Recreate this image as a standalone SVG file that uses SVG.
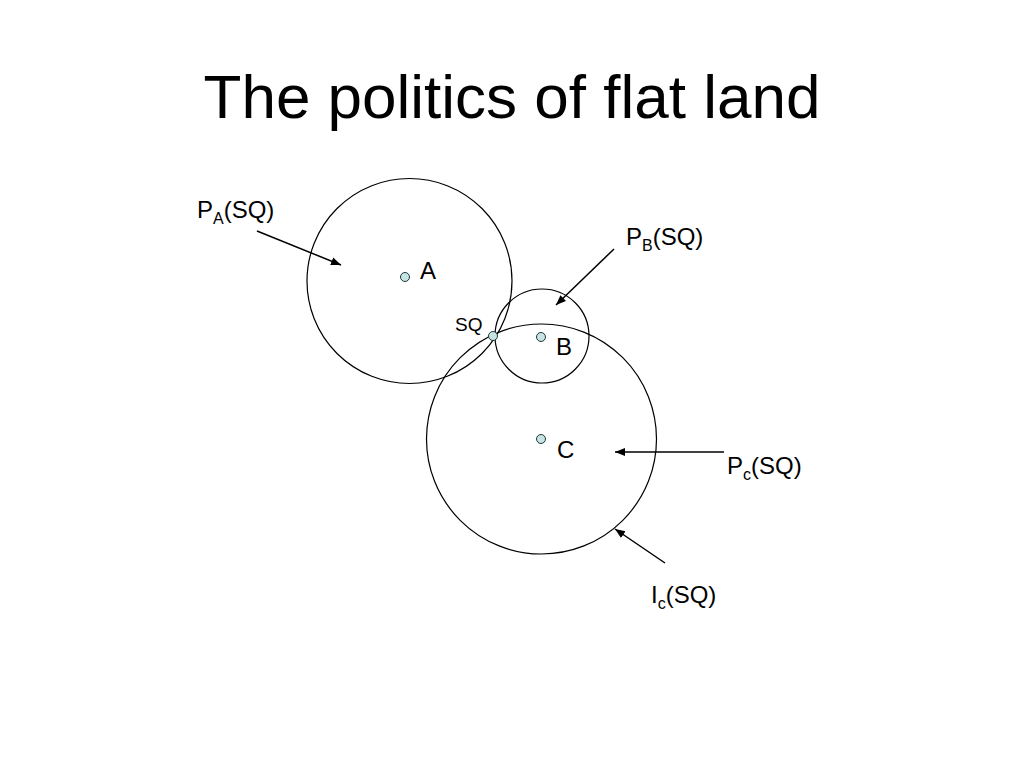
<svg xmlns="http://www.w3.org/2000/svg" width="1024" height="768" viewBox="0 0 1024 768">
<defs>
<marker id="ah" viewBox="0 0 10 10" refX="10" refY="5" markerWidth="10" markerHeight="10" markerUnits="userSpaceOnUse" orient="auto">
<path d="M0,1 L10,5 L0,9 z" fill="#000"/>
</marker>
<style>
.c{fill:none;stroke:#000;stroke-width:1.2}
.p{fill:#c8e4e2;stroke:#1a3a3a;stroke-width:1}
.t{font-family:"Liberation Sans",Arial,sans-serif;fill:#000}
.l{font-size:24px}
.s{font-size:16px}
.a{stroke:#000;stroke-width:1.5;fill:none;marker-end:url(#ah)}
</style>
</defs>
<rect width="1024" height="768" fill="#fff"/>
<text class="t" x="512" y="118" font-size="62" text-anchor="middle">The politics of flat land</text>
<g id="circles">
<circle id="circleA" class="c" cx="409.5" cy="281" r="102.5"/>
<circle id="circleB" class="c" cx="542" cy="336" r="47"/>
<circle id="circleC" class="c" cx="541.5" cy="439" r="115"/>
</g>
<g id="connectors">
<line class="a" x1="257" y1="231" x2="341" y2="265"/>
<line class="a" x1="614" y1="249" x2="556" y2="305"/>
<line class="a" x1="724" y1="452" x2="615" y2="452"/>
<line class="a" x1="665" y1="563" x2="615" y2="529"/>
</g>
<g id="nodeA"><circle class="p" cx="405" cy="277" r="4.5"/><text class="t l" x="420" y="279">A</text></g>
<g id="nodeB"><circle class="p" cx="541" cy="337" r="4.5"/><text class="t l" x="556" y="355">B</text></g>
<g id="nodeC"><circle class="p" cx="541" cy="439" r="4.5"/><text class="t l" x="557" y="458">C</text></g>
<g id="nodeSQ"><circle class="p" cx="493" cy="336" r="4.5"/><text class="t" x="455" y="331" font-size="19">SQ</text></g>
<g id="labelPA"><text class="t l" x="197" y="218">P<tspan class="s" dy="6">A</tspan><tspan dy="-6">(SQ)</tspan></text></g>
<g id="labelPB"><text class="t l" x="626" y="245">P<tspan class="s" dy="6">B</tspan><tspan dy="-6">(SQ)</tspan></text></g>
<g id="labelPC"><text class="t l" x="727" y="474">P<tspan class="s" dy="6">c</tspan><tspan dy="-6">(SQ)</tspan></text></g>
<g id="labelIC"><text class="t l" x="651" y="603">I<tspan class="s" dy="6">c</tspan><tspan dy="-6">(SQ)</tspan></text></g>
</svg>
